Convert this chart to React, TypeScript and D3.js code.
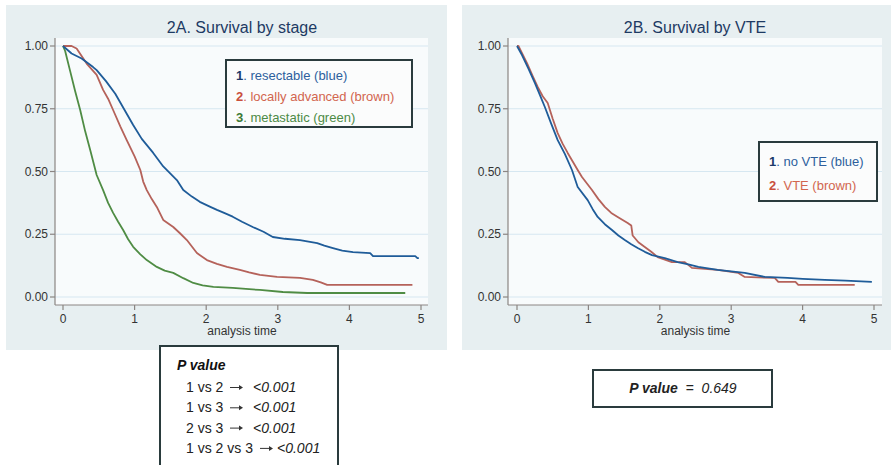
import React from "react";
import * as d3 from "d3";

// ---------- Data ----------
const xTicks = [0, 1, 2, 3, 4, 5];
const yTicks = [0, 0.25, 0.5, 0.75, 1];

// 2A. resectable (blue)
const resectT = [0, 0.12, 0.26, 0.42, 0.47, 0.6, 0.73, 0.85, 0.98, 1.1, 1.26, 1.4, 1.59, 1.68, 1.8, 1.91, 2.05, 2.15, 2.25, 2.37, 2.5, 2.65, 2.8, 2.93, 3.1, 3.31, 3.45, 3.55, 3.65, 3.77, 3.9, 4.05, 4.29, 4.33, 4.92, 4.95, 4.97];
const resectS = [1, 0.97, 0.95, 0.916, 0.904, 0.86, 0.81, 0.75, 0.685, 0.63, 0.574, 0.52, 0.466, 0.426, 0.4, 0.379, 0.36, 0.347, 0.335, 0.32, 0.3, 0.279, 0.26, 0.239, 0.232, 0.227, 0.22, 0.215, 0.205, 0.195, 0.185, 0.179, 0.175, 0.163, 0.163, 0.155, 0.155];
// 2A. locally advanced (brown)
const locAdvT = [0, 0.12, 0.19, 0.33, 0.47, 0.56, 0.63, 0.7, 0.8, 0.89, 1.0, 1.08, 1.12, 1.17, 1.24, 1.31, 1.4, 1.54, 1.63, 1.73, 1.87, 2.01, 2.15, 2.29, 2.47, 2.6, 2.75, 2.99, 3.31, 3.49, 3.6, 3.69, 4.88];
const locAdvS = [1, 1, 0.99, 0.93, 0.885, 0.825, 0.79, 0.745, 0.68, 0.625, 0.56, 0.506, 0.46, 0.426, 0.39, 0.359, 0.307, 0.279, 0.255, 0.227, 0.175, 0.147, 0.132, 0.12, 0.108, 0.098, 0.088, 0.08, 0.076, 0.068, 0.058, 0.048, 0.048];
// 2A. metastatic (green)
const metaT = [0, 0.03, 0.1, 0.17, 0.24, 0.31, 0.38, 0.47, 0.56, 0.63, 0.7, 0.77, 0.84, 0.91, 0.98, 1.08, 1.17, 1.31, 1.42, 1.54, 1.68, 1.82, 1.95, 2.1, 2.37, 2.6, 2.75, 3.07, 3.41, 4.78];
const metaS = [1, 0.98, 0.9, 0.82, 0.745, 0.66, 0.586, 0.486, 0.426, 0.375, 0.335, 0.3, 0.267, 0.23, 0.2, 0.17, 0.147, 0.12, 0.105, 0.096, 0.075, 0.056, 0.046, 0.04, 0.036, 0.031, 0.028, 0.02, 0.016, 0.016];

// 2B. no VTE (blue)
const noVteT = [0, 0.07, 0.16, 0.25, 0.32, 0.39, 0.48, 0.57, 0.67, 0.77, 0.85, 0.99, 1.06, 1.13, 1.23, 1.33, 1.42, 1.51, 1.6, 1.69, 1.79, 1.89, 2.07, 2.25, 2.4, 2.54, 2.81, 3.0, 3.19, 3.47, 3.79, 4.0, 4.31, 4.6, 4.97];
const noVteS = [1, 0.964, 0.91, 0.853, 0.805, 0.757, 0.69, 0.625, 0.57, 0.506, 0.438, 0.386, 0.35, 0.319, 0.29, 0.267, 0.245, 0.227, 0.21, 0.195, 0.18, 0.167, 0.155, 0.139, 0.13, 0.12, 0.108, 0.102, 0.096, 0.08, 0.076, 0.072, 0.068, 0.065, 0.06];
// 2B. VTE (brown)
const vteT = [0, 0.02, 0.14, 0.22, 0.29, 0.36, 0.43, 0.5, 0.57, 0.64, 0.71, 0.78, 0.85, 0.91, 1.05, 1.14, 1.23, 1.32, 1.41, 1.55, 1.6, 1.62, 1.7, 1.79, 1.88, 1.97, 2.17, 2.35, 2.45, 2.81, 3.1, 3.19, 3.61, 3.66, 3.9, 3.94, 4.73];
const vteS = [1, 1, 0.932, 0.88, 0.837, 0.8, 0.773, 0.71, 0.653, 0.61, 0.574, 0.54, 0.506, 0.478, 0.426, 0.39, 0.359, 0.335, 0.319, 0.295, 0.285, 0.245, 0.218, 0.199, 0.18, 0.159, 0.139, 0.139, 0.116, 0.108, 0.096, 0.08, 0.076, 0.06, 0.06, 0.048, 0.048];

const pLeftRows = ["1 vs 2", "1 vs 3", "2 vs 3", "1 vs 2 vs 3"];
const pLeftVals = ["<0.001", "<0.001", "<0.001", "<0.001"];
const pRight = "0.649";

// ---------- Styles ----------
const FONT = "'Liberation Sans', Arial, Helvetica, sans-serif";
const PANEL_BG = "#e7eff1";
const PLOT_BG = "#f8fbfc";
const GRID = "#d6e7f1";
const AXIS = "#8b8583";
const BLUE = "#1f5c99";
const BROWN = "#b5625a";
const GREEN = "#4f8c44";
const TITLE = "#1d3a63";

type Series = { t: number[]; s: number[]; color: string };

function Panel(props: {
  px: number; pw: number; title: string; titleX: number;
  axisX: number; x0: number; x5: number; plotRight: number;
  series: Series[];
}) {
  const { px, pw, title, titleX, axisX, x0, x5, plotRight, series } = props;
  const x = d3.scaleLinear().domain([0, 5]).range([x0, x5]);
  const y = d3.scaleLinear().domain([0, 1]).range([297, 46]);
  const plotTop = 38, plotBottom = 305;
  const line = d3.line<[number, number]>()
    .x((d) => x(d[0]))
    .y((d) => y(d[1]))
    .curve(d3.curveLinear);
  return (
    <g>
      <rect x={px} y={5} width={pw} height={345} fill={PANEL_BG} />
      <text x={titleX} y={33} textAnchor="middle" fontFamily={FONT} fontSize={16} fill={TITLE}>{title}</text>
      <rect x={axisX} y={plotTop} width={plotRight - axisX} height={plotBottom - plotTop} fill={PLOT_BG} />
      {yTicks.map((v) => (
        <line key={"g" + v} x1={axisX} x2={plotRight} y1={y(v)} y2={y(v)} stroke={GRID} strokeWidth={1} />
      ))}
      {series.map((sr, i) => (
        <path key={i} d={line(sr.t.map((t, j) => [t, sr.s[j]] as [number, number])) || ""}
          fill="none" stroke={sr.color} strokeWidth={1.8} strokeLinejoin="round" />
      ))}
      <line x1={axisX} x2={axisX} y1={plotTop} y2={plotBottom} stroke={AXIS} strokeWidth={1.2} />
      <line x1={axisX} x2={plotRight} y1={plotBottom} y2={plotBottom} stroke={AXIS} strokeWidth={1.2} />
      {yTicks.map((v) => (
        <g key={"y" + v}>
          <line x1={axisX - 5} x2={axisX} y1={y(v)} y2={y(v)} stroke={AXIS} strokeWidth={1.2} />
          <text x={axisX - 7} y={y(v) + 4} textAnchor="end" fontFamily={FONT} fontSize={12} fill="#333">{d3.format(".2f")(v)}</text>
        </g>
      ))}
      {xTicks.map((v) => (
        <g key={"x" + v}>
          <line x1={x(v)} x2={x(v)} y1={plotBottom} y2={plotBottom + 5} stroke={AXIS} strokeWidth={1.2} />
          <text x={x(v)} y={323} textAnchor="middle" fontFamily={FONT} fontSize={12} fill="#333">{v}</text>
        </g>
      ))}
      <text x={(x0 + x5) / 2} y={335} textAnchor="middle" fontFamily={FONT} fontSize={12} fill="#333">analysis time</text>
    </g>
  );
}

export default function App() {
  return (
    <svg width={891} height={465} style={{ position: "absolute", left: 0, top: 0, background: "#fff" }}>
      <rect x={0} y={0} width={891} height={465} fill="#fff" />
      <Panel px={6} pw={441} title="2A. Survival by stage" titleX={242}
        axisX={55} x0={63} x5={421} plotRight={428}
        series={[
          { t: metaT, s: metaS, color: GREEN },
          { t: locAdvT, s: locAdvS, color: BROWN },
          { t: resectT, s: resectS, color: BLUE },
        ]} />
      <Panel px={462} pw={429} title="2B. Survival by VTE" titleX={695}
        axisX={508} x0={517} x5={874} plotRight={882}
        series={[
          { t: vteT, s: vteS, color: BROWN },
          { t: noVteT, s: noVteS, color: BLUE },
        ]} />

      {/* Legend 2A */}
      <rect x={226} y={60} width={186} height={67} fill="#fbfcfc" stroke="#2a3b3d" strokeWidth={2} />
      <text x={236} y={80} fontFamily={FONT} fontSize={13}>
        <tspan fill="#1c3a6a" fontWeight="bold">1</tspan><tspan fill="#2d5f9c">. resectable (blue)</tspan>
      </text>
      <text x={236} y={101} fontFamily={FONT} fontSize={13}>
        <tspan fill="#c94f3c" fontWeight="bold">2</tspan><tspan fill="#d2664f">. locally advanced (brown)</tspan>
      </text>
      <text x={236} y={122} fontFamily={FONT} fontSize={13}>
        <tspan fill="#3d7a36" fontWeight="bold">3</tspan><tspan fill="#4d8b46">. metastatic (green)</tspan>
      </text>

      {/* Legend 2B */}
      <rect x={759} y={142} width={118} height={59} fill="#fbfcfc" stroke="#2a3b3d" strokeWidth={2} />
      <text x={769} y={166} fontFamily={FONT} fontSize={13}>
        <tspan fill="#1c3a6a" fontWeight="bold">1</tspan><tspan fill="#2d5f9c">. no VTE (blue)</tspan>
      </text>
      <text x={769} y={190} fontFamily={FONT} fontSize={13}>
        <tspan fill="#c94f3c" fontWeight="bold">2</tspan><tspan fill="#d2664f">. VTE (brown)</tspan>
      </text>

      {/* P value 2A */}
      <rect x={160} y={346} width={178} height={125} fill="#fff" stroke="#2a3b3d" strokeWidth={2} />
      <text x={177} y={370} fontFamily={FONT} fontSize={14} fontWeight="bold" fontStyle="italic" fill="#111">P value</text>
      {pLeftRows.map((r, i) => {
        const last = i === pLeftRows.length - 1;
        const yy = 392 + i * 20.3;
        const ax = last ? 260 : 230;
        const vx = last ? 277 : 253;
        return (
          <g key={r} fill="#222">
            <text x={186} y={yy} fontFamily={FONT} fontSize={14}>{r}</text>
            <line x1={ax} x2={ax + 11} y1={yy - 4.5} y2={yy - 4.5} stroke="#333" strokeWidth={1} />
            <path d={`M${ax + 13},${yy - 4.5} L${ax + 9},${yy - 7} L${ax + 9},${yy - 2} Z`} fill="#333" />
            <text x={vx} y={yy} fontFamily={FONT} fontSize={14} fontStyle="italic">{pLeftVals[i]}</text>
          </g>
        );
      })}

      {/* P value 2B */}
      <rect x={593} y={370} width={179} height={37} fill="#fff" stroke="#2a3b3d" strokeWidth={2} />
      <text x={683} y={393} textAnchor="middle" fontFamily={FONT} fontSize={14} fill="#222" style={{ whiteSpace: "pre" }}>
        <tspan fontWeight="bold" fontStyle="italic">P value</tspan><tspan>{"  =  "}</tspan><tspan fontStyle="italic">{pRight}</tspan>
      </text>
    </svg>
  );
}
